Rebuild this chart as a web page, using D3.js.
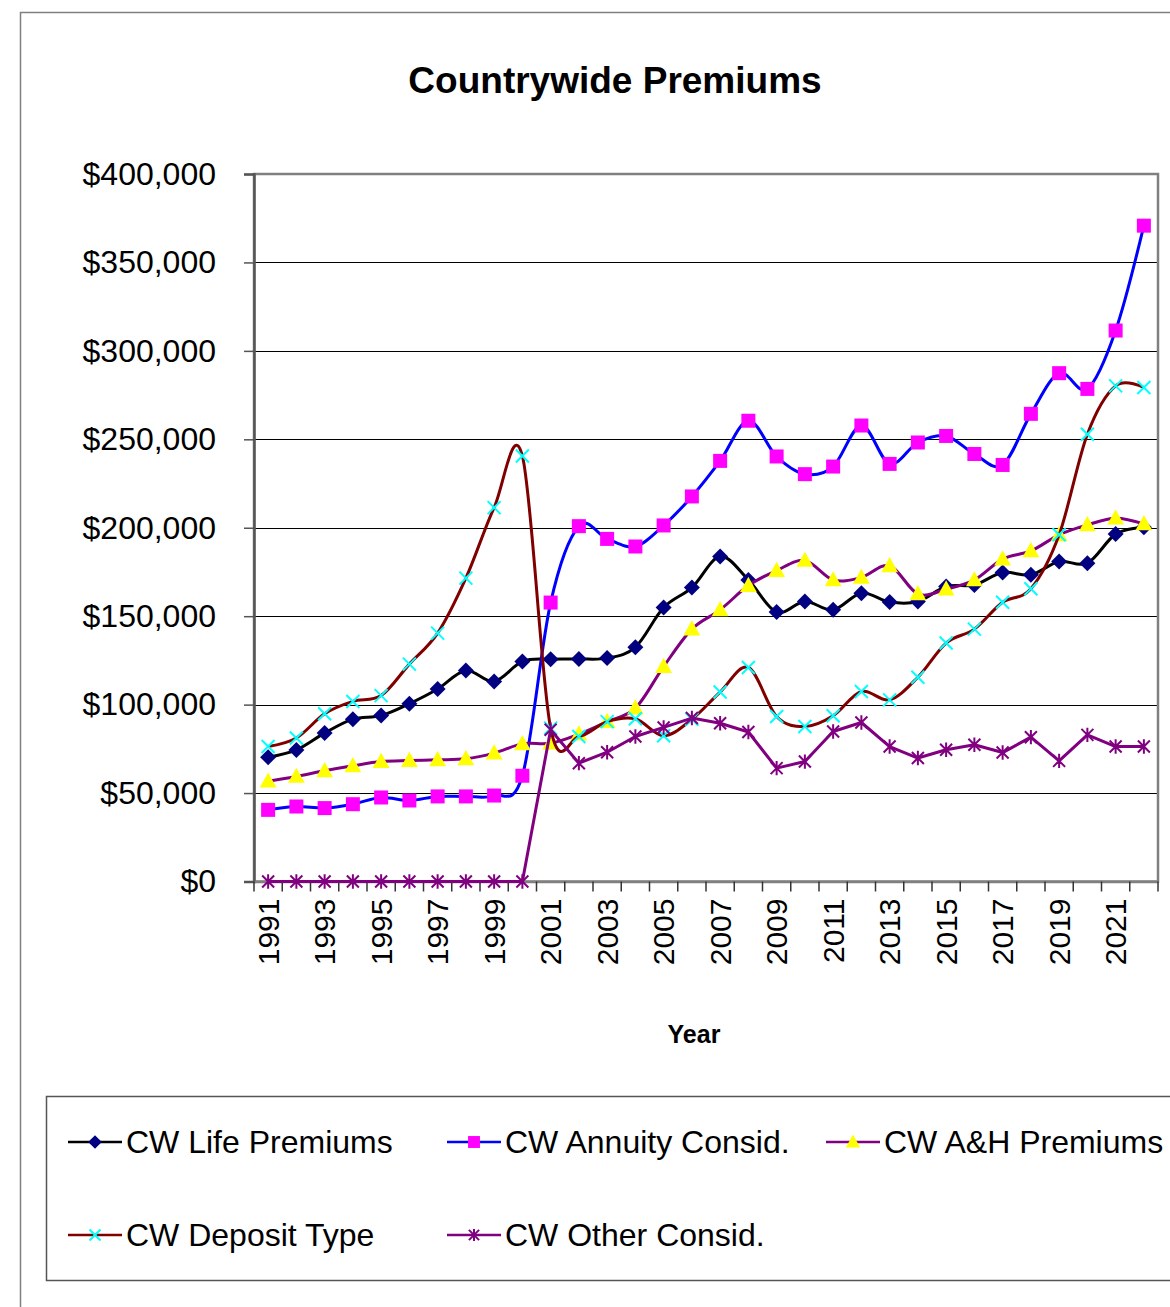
<!DOCTYPE html>
<html><head><meta charset="utf-8">
<script src="https://cdn.jsdelivr.net/npm/d3@7"></script>
<style>body{margin:0;background:#fff}svg{display:block}text{font-family:"Liberation Sans",Arial,sans-serif}</style>
</head><body><div id="chart"></div>
<script>
const years = d3.range(1991, 2023);
const yTicks = [0,50000,100000,150000,200000,250000,300000,350000,400000];
const lifePremiums = [70300,74400,83900,91800,93800,100500,108800,119300,113100,124400,125700,125800,126300,132500,154900,166200,183700,170500,152300,158300,153600,163000,158000,158300,166800,167700,174700,173400,180900,180000,196400,200300];
const annuityConsid = [40500,42400,41500,43700,47500,45800,48100,48100,48600,59800,157700,200900,193700,189400,201300,217700,237800,260500,240300,230300,234600,257800,236100,248200,251900,241700,235500,264400,287400,278500,311500,370800];
const ahPremiums = [56700,59400,62600,65400,67800,68400,68800,69400,72600,77800,78200,83300,90400,98000,121500,142700,153600,167300,175800,181500,170500,171900,178500,162600,165300,170500,182300,186900,196000,201600,205400,202200];
const depositType = [76300,81100,94800,101800,105100,122900,140400,171500,211400,240600,86700,82000,90400,92000,82400,91700,107100,121000,93300,87600,93700,107400,102700,115500,134800,142700,157900,165500,196000,252900,280200,279300];
const otherConsid = [0,0,0,0,0,0,0,0,0,0,85800,66900,73100,82000,87100,92400,89500,84500,64100,67800,84800,89900,76300,69800,74500,77300,72900,81600,68200,82900,76300,76300];
const seriesNames = ["CW Life Premiums","CW Annuity Consid.","CW A&H Premiums","CW Deposit Type","CW Other Consid."];

const W=1170,H=1307;
const svg=d3.select("#chart").append("svg").attr("width",W).attr("height",H);
svg.append("path").attr("d","M20.5,1307 L20.5,12.5 L1170,12.5").attr("fill","none").attr("stroke","#808080").attr("stroke-width",1.5);

const L=254,R=1158,T=174,B=881.5;
const x=d3.scaleBand().domain(years).range([L,R]).padding(0);
const y=d3.scaleLinear().domain([0,400000]).range([B,T]);

svg.append("text").attr("x",615).attr("y",93).attr("text-anchor","middle").attr("font-weight","bold").attr("font-size",37).text("Countrywide Premiums");

svg.append("g").selectAll("line").data(yTicks.filter(d=>d>0&&d<400000)).join("line")
 .attr("x1",L).attr("x2",R).attr("y1",d=>Math.round(y(d))+0.5).attr("y2",d=>Math.round(y(d))+0.5).attr("stroke","#000").attr("stroke-width",1);

svg.append("rect").attr("x",L).attr("y",T).attr("width",R-L).attr("height",B-T).attr("fill","none").attr("stroke","#808080").attr("stroke-width",2.5);

const ya=svg.append("g").attr("transform",`translate(${L},0)`)
 .call(d3.axisLeft(y).tickValues(yTicks).tickSize(10).tickPadding(28).tickFormat(d=>"$"+d3.format(",")(d)));
ya.select(".domain").attr("stroke","#555").attr("stroke-width",2.5);
ya.selectAll(".tick line").attr("stroke","#555").attr("stroke-width",1.5);
ya.selectAll("text").attr("font-size",32).attr("fill","#000").attr("font-family","Liberation Sans, Arial, sans-serif");

const xa=svg.append("g").attr("transform",`translate(0,${B})`)
 .call(d3.axisBottom(x).tickSize(0).tickFormat(d=>d%2===1?d:""));
xa.select(".domain").attr("stroke","#808080").attr("stroke-width",2.5);
xa.selectAll(".tick text").attr("font-size",30).attr("fill","#000").attr("font-family","Liberation Sans, Arial, sans-serif")
 .attr("transform","rotate(-90)").attr("text-anchor","end").attr("x",-17).attr("y",0).attr("dy","0.36em");
svg.append("g").selectAll("line").data(years.map(d=>x(d)).concat([R])).join("line")
 .attr("x1",d=>d).attr("x2",d=>d).attr("y1",B).attr("y2",B+10).attr("stroke","#333").attr("stroke-width",1.5);

svg.append("text").attr("x",694).attr("y",1043).attr("text-anchor","middle").attr("font-weight","bold").attr("font-size",25).text("Year");

function marker(g,type,s){
  if(type==="diamond") g.append("path").attr("d",`M0,${-s} L${s},0 L0,${s} L${-s},0Z`).attr("fill","#000080");
  else if(type==="square") g.append("rect").attr("x",-s).attr("y",-s).attr("width",2*s).attr("height",2*s).attr("fill","#FF00FF");
  else if(type==="triangle") g.append("path").attr("d",`M0,${-s*1.1} L${s*1.05},${s*0.8} L${-s*1.05},${s*0.8}Z`).attr("fill","#FFFF00");
  else if(type==="x") g.append("path").attr("d",`M${-s},${-s} L${s},${s} M${-s},${s} L${s},${-s}`).attr("stroke","#00FFFF").attr("stroke-width",2).attr("fill","none");
  else if(type==="star") g.append("path").attr("d",`M${-s},${-s} L${s},${s} M${-s},${s} L${s},${-s} M0,${-s*1.2} L0,${s*1.2}`).attr("stroke","#800080").attr("stroke-width",2).attr("fill","none");
}
const series=[
 {name:seriesNames[0],vals:lifePremiums,line:"#000000",m:"diamond",ms:8,smooth:true},
 {name:seriesNames[1],vals:annuityConsid,line:"#0000FF",m:"square",ms:7,smooth:true},
 {name:seriesNames[2],vals:ahPremiums,line:"#800080",m:"triangle",ms:8,smooth:true},
 {name:seriesNames[3],vals:depositType,line:"#800000",m:"x",ms:6.5,smooth:true},
 {name:seriesNames[4],vals:otherConsid,line:"#800080",m:"star",ms:6,smooth:false}
];
const cx=d=>x(d)+x.bandwidth()/2;
series.forEach(s=>{
  const data=years.map((yr,i)=>[cx(yr),y(s.vals[i])]);
  const ln=d3.line().curve(s.smooth?d3.curveCatmullRom.alpha(0):d3.curveLinear);
  svg.append("path").attr("d",ln(data)).attr("fill","none").attr("stroke",s.line).attr("stroke-width",3).attr("stroke-linejoin","round");
  data.forEach(p=>{const g=svg.append("g").attr("transform",`translate(${p[0]},${p[1]})`);marker(g,s.m,s.ms);});
});

svg.append("rect").attr("x",46.5).attr("y",1096.5).attr("width",1140).attr("height",184).attr("fill","none").attr("stroke","#555").attr("stroke-width",1.5);
const legPos=[[68,1142],[447,1142],[826,1142],[68,1235],[447,1235]];
series.forEach((s,i)=>{
  const [lx,ly]=legPos[i];
  svg.append("line").attr("x1",lx).attr("x2",lx+54).attr("y1",ly).attr("y2",ly).attr("stroke",s.line).attr("stroke-width",2.5);
  const g=svg.append("g").attr("transform",`translate(${lx+27},${ly})`);marker(g,s.m,s.ms*0.85);
  svg.append("text").attr("x",lx+58).attr("y",ly).attr("dy","0.35em").attr("font-size",32).text(s.name);
});
</script></body></html>
